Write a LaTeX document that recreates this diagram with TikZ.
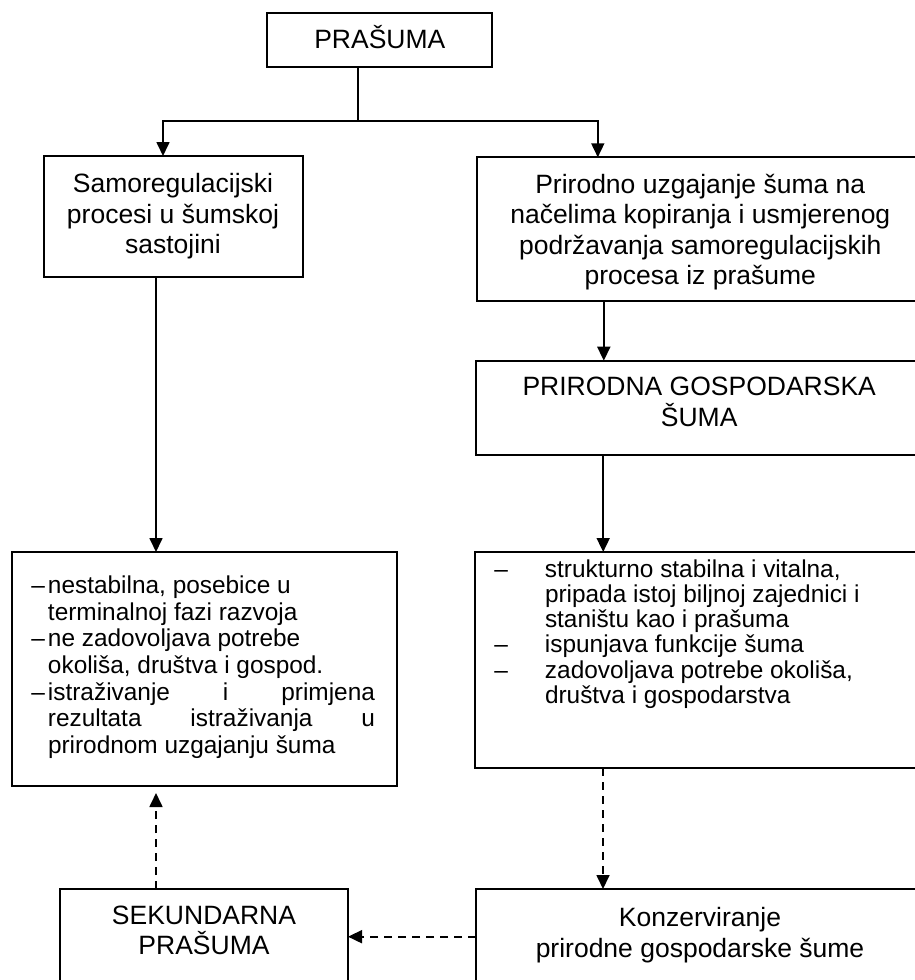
\documentclass[tikz,border=0pt]{standalone}
\usepackage{fontspec}
\setmainfont{Liberation Sans}
\usetikzlibrary{arrows.meta}

\tikzset{
  box/.style={draw, line width=2pt, inner sep=0pt, outer sep=0pt, anchor=north west},
  link/.style={line width=1.7pt, -{Triangle[length=14pt,width=13pt]}},
  dashlink/.style={link, dash pattern=on 8pt off 6pt},
}
% box text: width, height, first baseline, text
\newcommand{\boxtext}[4]{\parbox[c][#2][t]{#1}{\centering\fontsize{26.5pt}{30.5pt}\selectfont\rule{0pt}{#3}#4}}
% list text: width, height, left skip, line skip, text
\newcommand{\listtext}[5]{\parbox[c][#2][t]{#1}{\raggedright\leftskip=#3\fontsize{24.4pt}{#4}\selectfont #5}}
% dash in front of a list line
\newcommand{\listdash}[1]{\leavevmode\llap{–\hspace{#1}}}

\begin{document}
\begin{tikzpicture}[x=1pt,y=-1pt]
\useasboundingbox (0,0) rectangle (915,980);
\clip (0,0) rectangle (915,980);
% BOXES
\node[box] (prasuma) at (267.3,12.7) {\boxtext{225pt}{54.6pt}{35.6pt}{PRAŠUMA}};
\node[box] (samoreg) at (43.5,156) {\boxtext{259pt}{120.7pt}{36.5pt}{Samoregulacijski\\procesi u šumskoj\\sastojini}};
\node[box] (uzgoj) at (477.3,157.3) {\boxtext{446pt}{143.4pt}{36pt}{Prirodno uzgajanje šuma na\\načelima kopiranja i usmjerenog\\podržavanja samoregulacijskih\\procesa iz prašume}};
\node[box] (gospodarska) at (475.7,360.7) {\boxtext{447pt}{94.3pt}{35pt}{PRIRODNA GOSPODARSKA\\ŠUMA}};
\node[box] (nestabilna) at (12,552) {\listtext{385pt}{234pt}{36pt}{26.7pt}{%
\rule{0pt}{41.3pt}\listdash{3pt}nestabilna, posebice u\\
terminalnoj fazi razvoja\\
\listdash{3pt}ne zadovoljava potrebe\\
okoliša, društva i gospod.\\
\listdash{3pt}\makebox[327pt][s]{istraživanje i primjena}\\
\makebox[327pt][s]{rezultata istraživanja u}\\
prirodnom uzgajanju šuma}};
\node[box] (stabilna) at (475,552) {\listtext{448pt}{216pt}{70pt}{25.2pt}{%
\rule{0pt}{25.3pt}\listdash{37pt}strukturno stabilna i vitalna,\\
pripada istoj biljnoj zajednici i\\
staništu kao i prašuma\\
\listdash{37pt}ispunjava funkcije šuma\\
\listdash{37pt}zadovoljava potrebe okoliša,\\
društva i gospodarstva}};
\node[box] (sekundarna) at (60,889) {\boxtext{288pt}{111pt}{35pt}{SEKUNDARNA\\PRAŠUMA}};
\node[box] (konzerviranje) at (476,889) {\boxtext{448pt}{111pt}{37.7pt}{Konzerviranje\\prirodne gospodarske šume}};
% SOLID ARROWS
\coordinate (split) at (358.3,121);
\draw[line width=1.7pt] (prasuma.south -| split) -- (split);
\draw[link] (split) -| ([xshift=-10pt]samoreg.north);
\draw[link] (split) -| ([xshift=-102.5pt]uzgoj.north);
\draw[link] ([xshift=-17pt]samoreg.south) -- ([xshift=-17pt]samoreg.south |- nestabilna.north);
\draw[link] ([xshift=-96.5pt]uzgoj.south) -- ([xshift=-96.5pt]uzgoj.south |- gospodarska.north);
\draw[link] ([xshift=-96pt]gospodarska.south) -- ([xshift=-96pt]gospodarska.south |- stabilna.north);
% DASHED ARROWS
\draw[dashlink] ([xshift=-96pt]stabilna.south) -- ([xshift=-96pt]stabilna.south |- konzerviranje.north);
\draw[dashlink] ([yshift=-47.7pt]konzerviranje.north west) -- ([yshift=-47.7pt]konzerviranje.north west -| sekundarna.east);
\draw[dashlink, shorten >=7pt] ([xshift=-48pt]sekundarna.north) -- ([xshift=-48pt]sekundarna.north |- nestabilna.south);
\end{tikzpicture}
\end{document}
